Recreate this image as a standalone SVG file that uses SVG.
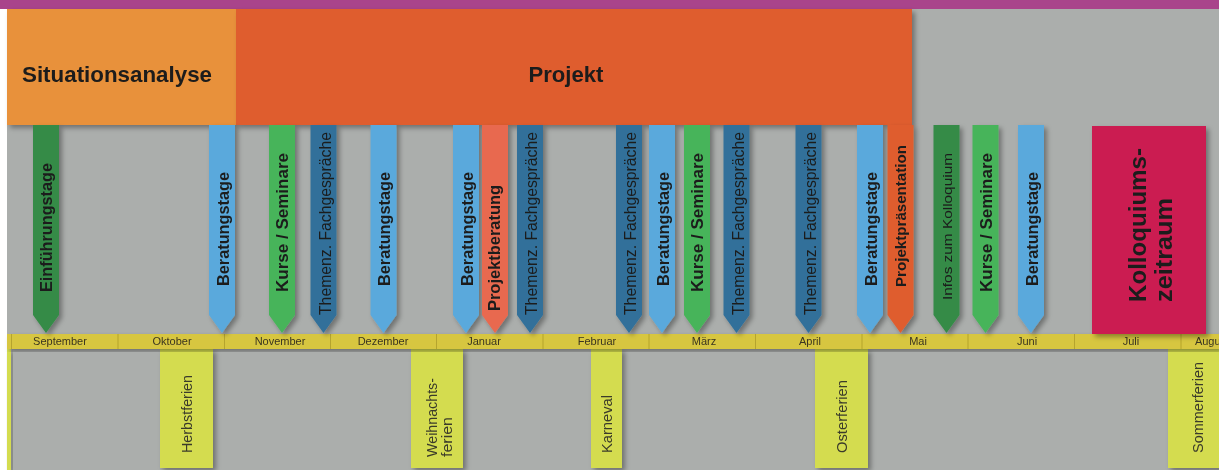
<svg xmlns="http://www.w3.org/2000/svg" xmlns:xlink="http://www.w3.org/1999/xlink" width="1219" height="470" viewBox="0 0 1219 470">
  <style>
    .t { font-family: "Liberation Sans", Arial, sans-serif; fill: #1c1c1c; }
    .b { font-weight: bold; }
    .pt { font-size: 16px; }
    .hd { font-size: 22px; font-weight: bold; fill: #1a1a1a; }
    .mo { font-size: 11px; fill: #3a3520; text-anchor: middle; }
    .hol { fill: #d4dc50; }
    .ht { font-size: 14px; fill: #3a3a2a; }
    .lb { fill: #5aa9dc; }
    .dg { fill: #348b46; }
    .gr { fill: #47b45a; }
    .db { fill: #30709a; }
    .sa { fill: #e8694f; }
    .or { fill: #df5d2e; }
    .div { stroke: #b5a42e; stroke-width: 1; }
  </style>
  <defs>
    <filter id="sh" x="-20%" y="-10%" width="160%" height="130%">
      <feDropShadow dx="3" dy="3" stdDeviation="2.5" flood-color="#000" flood-opacity="0.35"/>
    </filter>
    <path id="pen" d="M-13,125 H13 V315 L0,333 L-13,315 Z"/>
  </defs>

  <!-- background -->
  <rect x="0" y="0" width="1219" height="470" fill="#ffffff"/>
  <rect x="7" y="0" width="1212" height="470" fill="#abaeac"/>
  <rect x="0" y="0" width="1219" height="9" fill="#a9448b"/>

  <!-- phases -->
  <g id="situationsanalyse" filter="url(#sh)">
    <rect x="7" y="9" width="229" height="116" fill="#e8913a"/>
    <text class="t hd" x="117" y="82" text-anchor="middle" textLength="190" lengthAdjust="spacingAndGlyphs">Situationsanalyse</text>
  </g>
  <g id="projekt" filter="url(#sh)">
    <rect x="236" y="9" width="676" height="116" fill="#df5d2e"/>
    <text class="t hd" x="566" y="82" text-anchor="middle" textLength="75" lengthAdjust="spacingAndGlyphs">Projekt</text>
  </g>

  <!-- holiday boxes -->
  <g id="sommerferien-prev" filter="url(#sh)">
    <rect class="hol" x="7" y="349" width="4" height="121"/>
  </g>
  <g id="herbstferien" filter="url(#sh)">
    <rect class="hol" x="160" y="349" width="53" height="119"/>
    <text class="t ht" transform="translate(192,453) rotate(-90)" textLength="78" lengthAdjust="spacingAndGlyphs">Herbstferien</text>
  </g>
  <g id="weihnachtsferien" filter="url(#sh)">
    <rect class="hol" x="411" y="349" width="52" height="119"/>
    <text class="t ht" transform="translate(437,457) rotate(-90)" textLength="79" lengthAdjust="spacingAndGlyphs">Weihnachts-</text>
    <text class="t ht" transform="translate(452,457) rotate(-90)" textLength="40" lengthAdjust="spacingAndGlyphs">ferien</text>
  </g>
  <g id="karneval" filter="url(#sh)">
    <rect class="hol" x="591" y="349" width="31" height="119"/>
    <text class="t ht" transform="translate(612,453) rotate(-90)" textLength="58" lengthAdjust="spacingAndGlyphs">Karneval</text>
  </g>
  <g id="osterferien" filter="url(#sh)">
    <rect class="hol" x="815" y="349" width="53" height="119"/>
    <text class="t ht" transform="translate(847,453) rotate(-90)" textLength="73" lengthAdjust="spacingAndGlyphs">Osterferien</text>
  </g>
  <g id="sommerferien" filter="url(#sh)">
    <rect class="hol" x="1168" y="349" width="60" height="119"/>
    <text class="t ht" transform="translate(1203,453) rotate(-90)" textLength="91" lengthAdjust="spacingAndGlyphs">Sommerferien</text>
  </g>

  <!-- month bar -->
  <g id="timeline" filter="url(#sh)">
    <rect x="7" y="334" width="1212" height="15" fill="#d7c63f"/>
    <g class="div">
      <line x1="11.5" y1="334" x2="11.5" y2="349"/>
      <line x1="118" y1="334" x2="118" y2="349"/>
      <line x1="224.5" y1="334" x2="224.5" y2="349"/>
      <line x1="330.5" y1="334" x2="330.5" y2="349"/>
      <line x1="436.5" y1="334" x2="436.5" y2="349"/>
      <line x1="543" y1="334" x2="543" y2="349"/>
      <line x1="649" y1="334" x2="649" y2="349"/>
      <line x1="755.5" y1="334" x2="755.5" y2="349"/>
      <line x1="862" y1="334" x2="862" y2="349"/>
      <line x1="968" y1="334" x2="968" y2="349"/>
      <line x1="1074.5" y1="334" x2="1074.5" y2="349"/>
      <line x1="1181" y1="334" x2="1181" y2="349"/>
    </g>
    <text class="t mo" x="60" y="345">September</text>
    <text class="t mo" x="172" y="345">Oktober</text>
    <text class="t mo" x="280" y="345">November</text>
    <text class="t mo" x="383" y="345">Dezember</text>
    <text class="t mo" x="484" y="345">Januar</text>
    <text class="t mo" x="597" y="345">Februar</text>
    <text class="t mo" x="704" y="345">März</text>
    <text class="t mo" x="810" y="345">April</text>
    <text class="t mo" x="918" y="345">Mai</text>
    <text class="t mo" x="1027" y="345">Juni</text>
    <text class="t mo" x="1131" y="345">Juli</text>
    <text class="t mo" x="1212" y="345">August</text>
  </g>

  <!-- Kolloquiumszeitraum -->
  <g id="kolloquiumszeitraum" filter="url(#sh)">
    <rect x="1092" y="126" width="114" height="208" fill="#cb1f51"/>
    <text class="t b" font-size="24" transform="translate(1146,302) rotate(-90)" textLength="154" lengthAdjust="spacingAndGlyphs">Kolloquiums-</text>
    <text class="t b" font-size="24" transform="translate(1172,302) rotate(-90)" textLength="104" lengthAdjust="spacingAndGlyphs">zeitraum</text>
  </g>

  <!-- pennants -->
  <g id="einfuehrungstage" filter="url(#sh)">
    <use xlink:href="#pen" href="#pen" x="46" class="dg"/>
    <text class="t b pt" transform="translate(52,292) rotate(-90)" textLength="129" lengthAdjust="spacingAndGlyphs">Einführungstage</text>
  </g>
  <g id="beratungstage-okt" filter="url(#sh)">
    <use xlink:href="#pen" href="#pen" x="222" class="lb"/>
    <text class="t b pt" transform="translate(228.5,286) rotate(-90)" textLength="114" lengthAdjust="spacingAndGlyphs">Beratungstage</text>
  </g>
  <g id="kurse-nov" filter="url(#sh)">
    <use xlink:href="#pen" href="#pen" x="282" class="gr"/>
    <text class="t b pt" transform="translate(288,292) rotate(-90)" textLength="139" lengthAdjust="spacingAndGlyphs">Kurse / Seminare</text>
  </g>
  <g id="fachgespraeche-nov" filter="url(#sh)">
    <use xlink:href="#pen" href="#pen" x="323.5" class="db"/>
    <text class="t pt" transform="translate(330.5,315) rotate(-90)" textLength="183" lengthAdjust="spacingAndGlyphs">Themenz. Fachgespräche</text>
  </g>
  <g id="beratungstage-dez" filter="url(#sh)">
    <use xlink:href="#pen" href="#pen" x="383.5" class="lb"/>
    <text class="t b pt" transform="translate(390,286) rotate(-90)" textLength="114" lengthAdjust="spacingAndGlyphs">Beratungstage</text>
  </g>
  <g id="beratungstage-jan" filter="url(#sh)">
    <use xlink:href="#pen" href="#pen" x="466" class="lb"/>
    <text class="t b pt" transform="translate(472.5,286) rotate(-90)" textLength="114" lengthAdjust="spacingAndGlyphs">Beratungstage</text>
  </g>
  <g id="projektberatung" filter="url(#sh)">
    <use xlink:href="#pen" href="#pen" x="495" class="sa"/>
    <text class="t b pt" transform="translate(500,311) rotate(-90)" textLength="126" lengthAdjust="spacingAndGlyphs">Projektberatung</text>
  </g>
  <g id="fachgespraeche-jan" filter="url(#sh)">
    <use xlink:href="#pen" href="#pen" x="530" class="db"/>
    <text class="t pt" transform="translate(537,315) rotate(-90)" textLength="183" lengthAdjust="spacingAndGlyphs">Themenz. Fachgespräche</text>
  </g>
  <g id="fachgespraeche-feb" filter="url(#sh)">
    <use xlink:href="#pen" href="#pen" x="629" class="db"/>
    <text class="t pt" transform="translate(636,315) rotate(-90)" textLength="183" lengthAdjust="spacingAndGlyphs">Themenz. Fachgespräche</text>
  </g>
  <g id="beratungstage-mrz" filter="url(#sh)">
    <use xlink:href="#pen" href="#pen" x="662" class="lb"/>
    <text class="t b pt" transform="translate(668.5,286) rotate(-90)" textLength="114" lengthAdjust="spacingAndGlyphs">Beratungstage</text>
  </g>
  <g id="kurse-mrz" filter="url(#sh)">
    <use xlink:href="#pen" href="#pen" x="697" class="gr"/>
    <text class="t b pt" transform="translate(703,292) rotate(-90)" textLength="139" lengthAdjust="spacingAndGlyphs">Kurse / Seminare</text>
  </g>
  <g id="fachgespraeche-mrz" filter="url(#sh)">
    <use xlink:href="#pen" href="#pen" x="736.5" class="db"/>
    <text class="t pt" transform="translate(743.5,315) rotate(-90)" textLength="183" lengthAdjust="spacingAndGlyphs">Themenz. Fachgespräche</text>
  </g>
  <g id="fachgespraeche-apr" filter="url(#sh)">
    <use xlink:href="#pen" href="#pen" x="808.5" class="db"/>
    <text class="t pt" transform="translate(815.5,315) rotate(-90)" textLength="183" lengthAdjust="spacingAndGlyphs">Themenz. Fachgespräche</text>
  </g>
  <g id="beratungstage-mai" filter="url(#sh)">
    <use xlink:href="#pen" href="#pen" x="870" class="lb"/>
    <text class="t b pt" transform="translate(876.5,286) rotate(-90)" textLength="114" lengthAdjust="spacingAndGlyphs">Beratungstage</text>
  </g>
  <g id="projektpraesentation" filter="url(#sh)">
    <use xlink:href="#pen" href="#pen" x="900.5" class="or"/>
    <text class="t b" font-size="14" transform="translate(906,287) rotate(-90)" textLength="142" lengthAdjust="spacingAndGlyphs">Projektpräsentation</text>
  </g>
  <g id="infos-kolloquium" filter="url(#sh)">
    <use xlink:href="#pen" href="#pen" x="946.5" class="dg"/>
    <text class="t" font-size="13" transform="translate(951.5,300) rotate(-90)" textLength="147" lengthAdjust="spacingAndGlyphs">Infos zum Kolloquium</text>
  </g>
  <g id="kurse-jun" filter="url(#sh)">
    <use xlink:href="#pen" href="#pen" x="985.5" class="gr"/>
    <text class="t b pt" transform="translate(991.5,292) rotate(-90)" textLength="139" lengthAdjust="spacingAndGlyphs">Kurse / Seminare</text>
  </g>
  <g id="beratungstage-jun" filter="url(#sh)">
    <use xlink:href="#pen" href="#pen" x="1031" class="lb"/>
    <text class="t b pt" transform="translate(1037.5,286) rotate(-90)" textLength="114" lengthAdjust="spacingAndGlyphs">Beratungstage</text>
  </g>
</svg>
